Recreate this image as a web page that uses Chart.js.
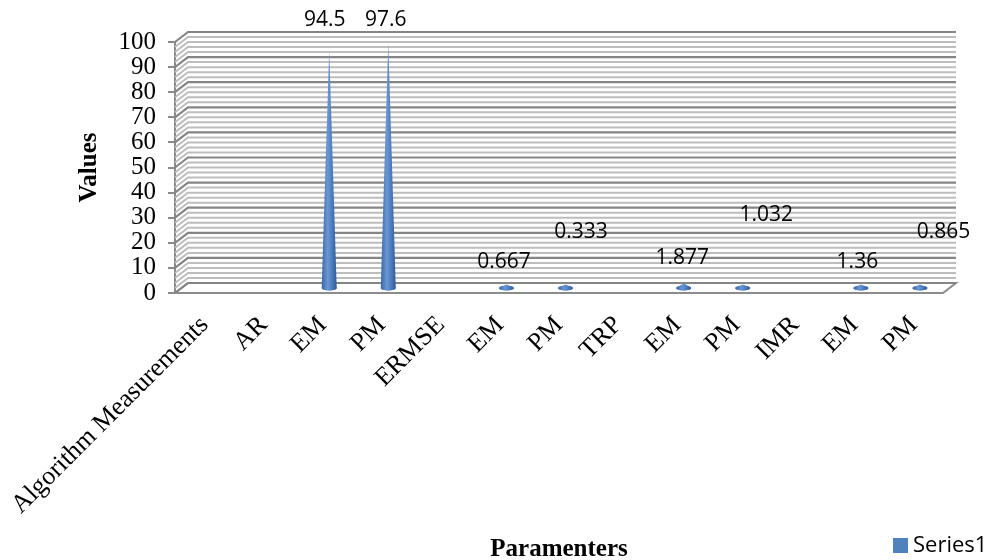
<!DOCTYPE html>
<html lang="en">
<head>
  <meta charset="UTF-8">
  <title>Parameters - cone chart</title>
  <script src="https://cdn.jsdelivr.net/npm/chart.js"></script>
  <style>
    body { margin: 0; background: #fff; }
  </style>
</head>
<body>
  <canvas id="grafico" width="996" height="560"></canvas>

  <script>
    // data
    const categorias = ['Algorithm Measurements', 'AR', 'EM', 'PM', 'ERMSE', 'EM', 'PM', 'TRP', 'EM', 'PM', 'IMR', 'EM', 'PM'];
    const valores = [null, null, 94.5, 97.6, null, 0.667, 0.333, null, 1.877, 1.032, null, 1.36, 0.865];
    const rotulos = ['', '', '94.5', '97.6', '', '0.667', '0.333', '', '1.877', '1.032', '', '1.36', '0.865'];
    const serieNome = 'Series1';

    // where Excel dropped each data label, relative to the bar top (px)
    const rotuloDx = [0, 0, 2, 4, 0, 4, 22, 0, 5, 30, 0, 3, 30];
    const rotuloDy = [0, 0, -36, -28, 0, -29, -60, 0, -30, -75, 0, -28, -59];

    const AZUL = '#4F81BD';
    const PROF_X = 13, PROF_Y = -10;   // 3D depth of the walls
    const serif = '"Liberation Serif", "Times New Roman", serif';
    const sans = '"Open Sans", "Liberation Sans", sans-serif';

    // back wall, side wall and floor
    const paredes = {
      id: 'paredes',
      beforeDatasetsDraw(chart) {
        const { ctx, chartArea: a, scales: { y } } = chart;
        ctx.save();
        // floor
        ctx.beginPath();
        ctx.moveTo(a.left, a.bottom);
        ctx.lineTo(a.right, a.bottom);
        ctx.lineTo(a.right + PROF_X, a.bottom + PROF_Y);
        ctx.lineTo(a.left + PROF_X, a.bottom + PROF_Y);
        ctx.closePath();
        ctx.fillStyle = '#fff';
        ctx.fill();
        ctx.strokeStyle = '#8c8c8c';
        ctx.lineWidth = 2;
        ctx.stroke();

        // grid lines: minor every 2, major every 10
        for (let v = 0; v <= 100; v += 2) {
          const yf = y.getPixelForValue(v);
          const yb = yf + PROF_Y;
          const maior = v % 10 === 0;
          ctx.strokeStyle = maior ? '#858585' : '#bdbdbd';
          ctx.lineWidth = maior ? 2.2 : 2;
          ctx.beginPath();
          ctx.moveTo(a.left, yf);
          ctx.lineTo(a.left + PROF_X, yb);
          ctx.lineTo(a.right + PROF_X, yb);
          ctx.stroke();
        }
        ctx.restore();
      },
      afterDatasetsDraw(chart) {
        const { ctx } = chart;
        const meta = chart.getDatasetMeta(0);
        const y = chart.scales.y;
        const y0 = y.getPixelForValue(0) + PROF_Y / 2;
        ctx.save();
        meta.data.forEach((bar, i) => {
          if (valores[i] === null) return;
          const cx = bar.x + PROF_X / 2;
          const topo = bar.y + PROF_Y / 2;
          const r = 7.5, ry = 2.6;
          const g = ctx.createLinearGradient(cx - r, 0, cx + r, 0);
          g.addColorStop(0, '#3a66a6');
          g.addColorStop(0.4, '#6a98d4');
          g.addColorStop(0.6, '#5585c6');
          g.addColorStop(1, '#2f5a98');
          ctx.fillStyle = g;
          ctx.beginPath();
          ctx.moveTo(cx - r, y0);
          ctx.lineTo(cx, Math.min(topo, y0 - ry - 1));
          ctx.lineTo(cx + r, y0);
          ctx.ellipse(cx, y0, r, ry, 0, 0, Math.PI);
          ctx.closePath();
          ctx.fill();
          ctx.beginPath();
          ctx.ellipse(cx, y0, r, ry, 0, 0, Math.PI * 2);
          ctx.fill();
        });

        // data labels
        ctx.fillStyle = '#000';
        ctx.font = '21px ' + sans;
        ctx.textAlign = 'center';
        ctx.textBaseline = 'middle';
        meta.data.forEach((bar, i) => {
          if (!rotulos[i]) return;
          ctx.fillText(rotulos[i], bar.x + rotuloDx[i], bar.y + rotuloDy[i]);
        });

        // legend
        ctx.fillStyle = AZUL;
        ctx.fillRect(893, 538, 15, 15);
        ctx.fillStyle = '#000';
        ctx.font = '22px ' + sans;
        ctx.textAlign = 'left';
        ctx.fillText(serieNome, 913, 546);
        ctx.restore();
      }
    };

    new Chart(document.getElementById('grafico'), {
      type: 'bar',
      data: {
        labels: categorias,
        datasets: [{
          label: serieNome,
          data: valores,
          backgroundColor: 'rgba(0,0,0,0)',
          borderWidth: 0
        }]
      },
      options: {
        responsive: false,
        animation: false,
        devicePixelRatio: 1,
        layout: { padding: { left: 0, right: 53, top: 42, bottom: 0 } },
        plugins: { legend: { display: false }, tooltip: { enabled: false } },
        scales: {
          x: {
            grid: { display: false },
            border: { display: false },
            ticks: {
              autoSkip: false,
              maxRotation: 45,
              minRotation: 45,
              padding: 9,
              color: '#000',
              font: { family: serif, size: 26 }
            },
            title: {
              display: true,
              text: 'Paramenters',
              color: '#000',
              font: { family: serif, size: 25, weight: 'bold', lineHeight: 1.2 },
              padding: { top: 0, bottom: -5 }
            },
            afterFit(scale) { scale.height = 267; }
          },
          y: {
            min: 0,
            max: 100,
            ticks: {
              stepSize: 10,
              autoSkip: false,
              padding: 12,
              color: '#000',
              font: { family: serif, size: 25 }
            },
            grid: {
              drawOnChartArea: false,
              tickLength: 7,
              color: '#8a8a8a',
              lineWidth: 2
            },
            border: { display: true, color: '#8a8a8a', width: 2 },
            title: {
              display: true,
              text: 'Values',
              color: '#000',
              font: { family: serif, size: 25, weight: 'bold', lineHeight: 1.2 },
              padding: { top: 75, bottom: 0 }
            },
            afterFit(scale) { scale.width = 175; }
          }
        }
      },
      plugins: [paredes]
    });
  </script>
</body>
</html>
